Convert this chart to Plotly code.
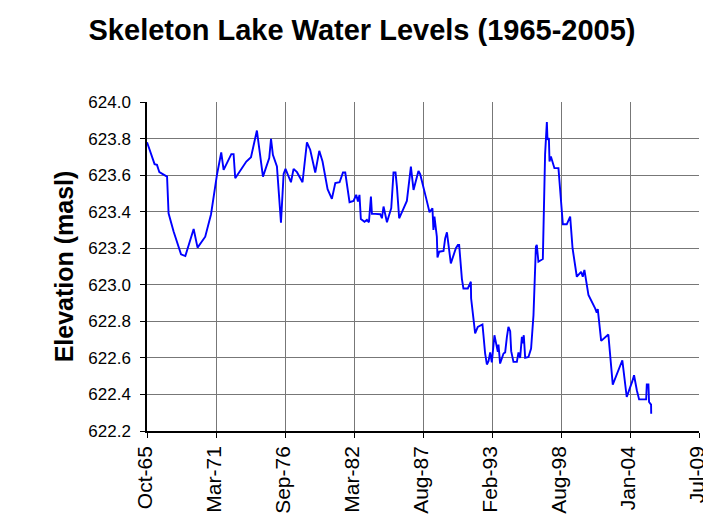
import datetime as dt
import plotly.graph_objects as go

# Decimal years
years = [
    1965.75, 1966.35, 1966.54, 1966.73, 1967.34, 1967.46, 1967.86, 1968.45, 1968.79, 1969.45,
    1969.76, 1970.37, 1970.83, 1971.30, 1971.64, 1971.83, 1972.44, 1972.62, 1972.75, 1973.63,
    1974.00, 1974.47, 1974.95, 1975.45, 1975.59, 1975.74, 1976.06, 1976.38, 1976.59, 1976.74,
    1977.17, 1977.38, 1977.65, 1978.09, 1978.44, 1978.70, 1979.10, 1979.42, 1979.68, 1980.08,
    1980.42, 1980.69, 1981.03, 1981.30, 1981.48, 1981.82, 1982.14, 1982.35, 1982.49, 1982.61,
    1982.72, 1983.01, 1983.20, 1983.36, 1983.52, 1983.60, 1983.86, 1984.26, 1984.39, 1984.52,
    1984.79, 1985.13, 1985.31, 1985.47, 1985.58, 1985.76, 1985.98, 1986.37, 1986.69, 1986.90,
    1987.29, 1987.43, 1987.90, 1988.17, 1988.40, 1988.48, 1988.56, 1988.75, 1988.80, 1988.94,
    1989.28, 1989.41, 1989.55, 1989.67, 1989.86, 1990.26, 1990.42, 1990.52, 1990.60, 1990.74,
    1990.86, 1991.21, 1991.45, 1991.47, 1991.66, 1991.79, 1992.00, 1992.37, 1992.45, 1992.58,
    1992.72, 1992.85, 1992.98, 1993.11, 1993.32, 1993.46, 1993.59, 1993.64, 1993.77, 1994.04,
    1994.17, 1994.31, 1994.43, 1994.57, 1994.65, 1994.83, 1995.10, 1995.23, 1995.36, 1995.50,
    1995.57, 1995.65, 1995.76, 1996.02, 1996.23, 1996.42, 1996.49, 1996.61, 1996.68, 1996.81,
    1997.16, 1997.34, 1997.48, 1997.53, 1997.64, 1997.69, 1997.80, 1998.08, 1998.40, 1998.48,
    1998.59, 1998.75, 1999.06, 1999.33, 1999.52, 1999.86, 2000.20, 2000.33, 2000.46, 2000.78,
    2001.31, 2001.44, 2001.52, 2001.79, 2002.36, 2002.71, 2003.47, 2003.82, 2004.27, 2004.40,
    2004.62, 2004.80, 2005.36, 2005.41, 2005.54, 2005.59, 2005.75, 2005.76,
]

# Water level elevations (masl)
levels = [
    623.78, 623.66, 623.656, 623.616, 623.592, 623.391, 623.291, 623.167, 623.157, 623.305,
    623.203, 623.263, 623.386, 623.601, 623.724, 623.629, 623.715, 623.715, 623.583, 623.674,
    623.698, 623.844, 623.592, 623.693, 623.799, 623.711, 623.647, 623.34, 623.607, 623.634,
    623.561, 623.634, 623.616, 623.561, 623.779, 623.739, 623.614, 623.733, 623.674, 623.523,
    623.47, 623.556, 623.561, 623.614, 623.614, 623.452, 623.459, 623.492, 623.455, 623.492,
    623.36, 623.345, 623.355, 623.342, 623.482, 623.388, 623.388, 623.386, 623.364, 623.428,
    623.342, 623.419, 623.614, 623.614, 623.537, 623.364, 623.397, 623.459, 623.647, 623.519,
    623.623, 623.605, 623.474, 623.397, 623.419, 623.30, 623.373, 623.263, 623.150, 623.181,
    623.185, 623.254, 623.287, 623.222, 623.117, 623.20, 623.218, 623.218, 623.132, 623.031,
    622.98, 622.98, 623.017, 622.926, 622.812, 622.734, 622.77, 622.783, 622.724, 622.624,
    622.564, 622.582, 622.63, 622.575, 622.724, 622.67, 622.633, 622.673, 622.569, 622.624,
    622.63, 622.715, 622.77, 622.746, 622.637, 622.578, 622.578, 622.63, 622.60, 622.715,
    622.679, 622.724, 622.60, 622.605, 622.651, 622.834, 622.953, 623.208, 623.218, 623.126,
    623.141, 623.715, 623.89, 623.793, 623.803, 623.674, 623.702, 623.638, 623.638, 623.556,
    623.437, 623.331, 623.331, 623.373, 623.20, 623.044, 623.071, 623.044, 623.081, 622.944,
    622.871, 622.847, 622.867, 622.693, 622.728, 622.454, 622.587, 622.386, 622.474, 622.505,
    622.423, 622.373, 622.373, 622.454, 622.454, 622.359, 622.344, 622.295,
]

tick_labels = ["Oct-65", "Mar-71", "Sep-76", "Mar-82", "Aug-87", "Feb-93", "Aug-98", "Jan-04", "Jul-09"]
y_ticks = [622.2, 622.4, 622.6, 622.8, 623.0, 623.2, 623.4, 623.6, 623.8, 624.0]


def to_date(y):
    yr = int(y)
    start = dt.datetime(yr, 1, 1)
    days = (dt.datetime(yr + 1, 1, 1) - start).days
    return start + dt.timedelta(days=(y - yr) * days)


dates = [to_date(y) for y in years]

axis_start = dt.datetime(1965, 10, 1)
tick_dates = [axis_start + dt.timedelta(days=2000 * i) for i in range(len(tick_labels))]

fig = go.Figure()
fig.add_trace(go.Scatter(x=dates, y=levels, mode="lines",
                         line=dict(color="#0000FF", width=1.9), showlegend=False))

# The page body has an 8px default margin, so the figure is sized 703x510
fig.update_layout(
    width=703, height=510,
    margin=dict(l=139, r=12, t=94, b=87, autoexpand=False),
    paper_bgcolor="white", plot_bgcolor="white",
    font=dict(family="Arial, Liberation Sans, sans-serif", color="black"),
    title=dict(text="<b>Skeleton Lake Water Levels (1965-2005)</b>",
               x=0.5036, xanchor="center", y=0.957, yanchor="middle",
               xref="container", yref="container",
               font=dict(size=29, color="black")),
)
fig.update_xaxes(
    type="date", range=[tick_dates[0], tick_dates[-1]],
    tickmode="array", tickvals=tick_dates, ticktext=tick_labels,
    tickangle=-90, tickfont=dict(size=21), automargin=False,
    ticklabelshift=-2,
    showgrid=True, gridcolor="#777777", gridwidth=1,
    showline=True, linecolor="black", linewidth=1.5,
    ticks="outside", ticklen=5, tickcolor="black",
    zeroline=False,
)
fig.update_yaxes(
    range=[622.2, 624.0], tickmode="array", tickvals=y_ticks,
    tickformat=".1f", tickfont=dict(size=17), automargin=False,
    ticklabelstandoff=6,
    showgrid=True, gridcolor="#777777", gridwidth=1,
    showline=True, linecolor="black", linewidth=1.5,
    ticks="outside", ticklen=5, tickcolor="black",
    zeroline=False,
    title=dict(text="<b>Elevation (masl)</b>", font=dict(size=25), standoff=8),
)

fig.write_html("out.html")
